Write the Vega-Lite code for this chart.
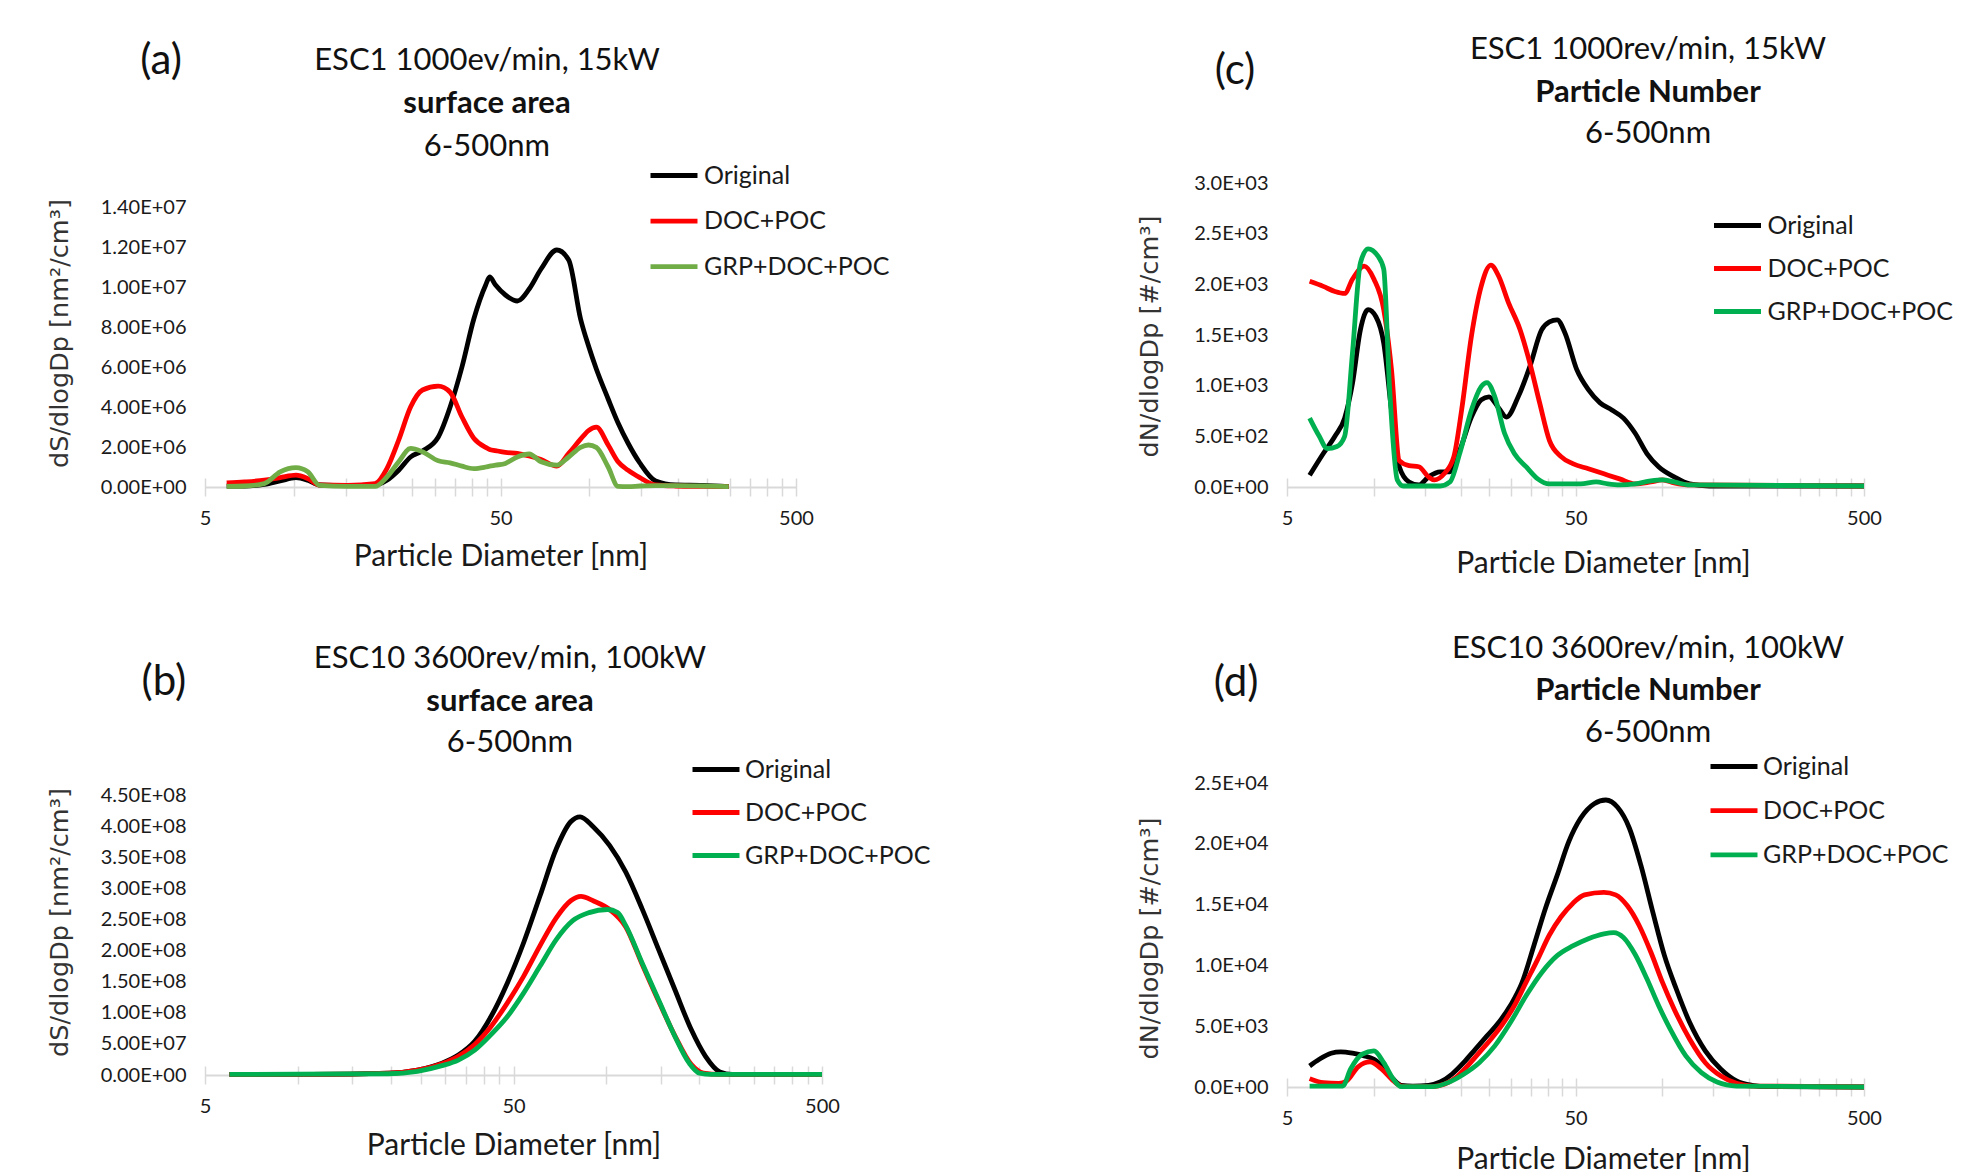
{
  "$schema": "https://vega.github.io/schema/vega-lite/v6.json",
  "padding": {"left": 46, "top": 33, "right": 0, "bottom": 0},
  "autosize": {"type": "pad"},
  "bounds": "flush",
  "columns": 2,
  "spacing": {"row": 296, "column": 465},
  "resolve": {"scale": {"color": "independent"}, "legend": {"color": "independent"}},
  "config": {
    "view": {"stroke": null},
    "font": "Lato",
    "axis": {"labelFont": "Lato", "labelFontSize": 20, "labelColor": "#1a1a1a", "titleColor": "#1a1a1a", "grid": false, "labelOverlap": false},
    "axisX": {"domainColor": "#D9D9D9", "domainWidth": 2, "tickColor": "#D9D9D9", "tickWidth": 1.5, "tickSize": 9, "labelPadding": 12, "labelFlush": false, "labelAngle": 0, "titleFont": "Lato", "titleFontSize": 30, "titleFontWeight": "normal", "titleBaseline": "middle"},
    "axisY": {"domain": false, "ticks": false, "labelPadding": 19, "titleFont": "DejaVu Sans", "titleFontSize": 25.5, "titleFontWeight": "normal", "titleBaseline": "middle", "titleColor": "#333333"},
    "legend": {"title": null, "orient": "none", "padding": 0, "symbolType": "M-2,0H2", "symbolSize": 552, "symbolStrokeWidth": 5, "labelFont": "Lato", "labelFontSize": 25, "labelColor": "#1a1a1a", "labelLimit": 400},
    "text": {"font": "Lato", "fontSize": 31, "color": "#111111", "baseline": "middle", "align": "center"},
    "line": {"strokeWidth": 4.8, "interpolate": "monotone"}
  },
  "concat": [
    {
      "width": 591, "height": 304,
      "data": {"values": [
        {"d": 5.92, "Original": 50000, "DOC+POC": 200000, "GRP+DOC+POC": 30000},
        {"d": 6.80, "Original": 50000, "DOC+POC": 250000, "GRP+DOC+POC": 50000},
        {"d": 7.94, "Original": 130000, "DOC+POC": 340000, "GRP+DOC+POC": 170000},
        {"d": 8.98, "Original": 300000, "DOC+POC": 470000, "GRP+DOC+POC": 760000},
        {"d": 10.16, "Original": 470000, "DOC+POC": 590000, "GRP+DOC+POC": 970000},
        {"d": 11.14, "Original": 340000, "DOC+POC": 420000, "GRP+DOC+POC": 760000},
        {"d": 12.22, "Original": 100000, "DOC+POC": 100000, "GRP+DOC+POC": 80000},
        {"d": 15.16, "Original": 70000, "DOC+POC": 80000, "GRP+DOC+POC": 30000},
        {"d": 18.80, "Original": 100000, "DOC+POC": 170000, "GRP+DOC+POC": 30000},
        {"d": 20.63, "Original": 340000, "DOC+POC": 920000, "GRP+DOC+POC": 500000},
        {"d": 22.62, "Original": 840000, "DOC+POC": 2350000, "GRP+DOC+POC": 1260000},
        {"d": 24.81, "Original": 1500000, "DOC+POC": 4000000, "GRP+DOC+POC": 1930000},
        {"d": 27.22, "Original": 1800000, "DOC+POC": 4850000, "GRP+DOC+POC": 1760000},
        {"d": 30.79, "Original": 2500000, "DOC+POC": 5040000, "GRP+DOC+POC": 1310000},
        {"d": 33.77, "Original": 4000000, "DOC+POC": 4740000, "GRP+DOC+POC": 1210000},
        {"d": 37.03, "Original": 6000000, "DOC+POC": 3500000, "GRP+DOC+POC": 1040000},
        {"d": 40.61, "Original": 8400000, "DOC+POC": 2440000, "GRP+DOC+POC": 920000},
        {"d": 44.55, "Original": 10100000, "DOC+POC": 1980000, "GRP+DOC+POC": 1000000},
        {"d": 45.94, "Original": 10500000, "DOC+POC": 1880000, "GRP+DOC+POC": 1040000},
        {"d": 48.11, "Original": 10100000, "DOC+POC": 1820000, "GRP+DOC+POC": 1090000},
        {"d": 51.96, "Original": 9600000, "DOC+POC": 1730000, "GRP+DOC+POC": 1180000},
        {"d": 57.00, "Original": 9300000, "DOC+POC": 1680000, "GRP+DOC+POC": 1500000},
        {"d": 62.51, "Original": 9900000, "DOC+POC": 1550000, "GRP+DOC+POC": 1650000},
        {"d": 68.57, "Original": 10900000, "DOC+POC": 1380000, "GRP+DOC+POC": 1260000},
        {"d": 77.56, "Original": 11850000, "DOC+POC": 1040000, "GRP+DOC+POC": 1090000},
        {"d": 85.07, "Original": 11350000, "DOC+POC": 1680000, "GRP+DOC+POC": 1500000},
        {"d": 93.31, "Original": 8400000, "DOC+POC": 2390000, "GRP+DOC+POC": 1980000},
        {"d": 99.24, "Original": 7060000, "DOC+POC": 2820000, "GRP+DOC+POC": 2100000},
        {"d": 105.5, "Original": 5900000, "DOC+POC": 2990000, "GRP+DOC+POC": 1980000},
        {"d": 115.7, "Original": 4400000, "DOC+POC": 2100000, "GRP+DOC+POC": 1000000},
        {"d": 125.0, "Original": 3200000, "DOC+POC": 1260000, "GRP+DOC+POC": 30000},
        {"d": 135.0, "Original": 2200000, "DOC+POC": 840000, "GRP+DOC+POC": 20000},
        {"d": 148.1, "Original": 1200000, "DOC+POC": 470000, "GRP+DOC+POC": 50000},
        {"d": 167.5, "Original": 300000, "DOC+POC": 100000, "GRP+DOC+POC": 70000},
        {"d": 195.4, "Original": 100000, "DOC+POC": 50000, "GRP+DOC+POC": 70000},
        {"d": 242.5, "Original": 80000, "DOC+POC": 30000, "GRP+DOC+POC": 50000},
        {"d": 296.2, "Original": 20000, "DOC+POC": 20000, "GRP+DOC+POC": 20000}
      ]},
      "layer": [
        {
          "transform": [{"fold": ["Original", "DOC+POC", "GRP+DOC+POC"], "as": ["s", "v"]}],
          "mark": {"type": "line"},
          "encoding": {
            "x": {"field": "d", "type": "quantitative", "scale": {"type": "log", "domain": [5, 500], "nice": false},
              "axis": {"values": [5,10,15,20,25,30,35,40,45,50,100,150,200,250,300,350,400,450,500], "tickCount": 40, "labelExpr": "datum.value == 5 || datum.value == 50 || datum.value == 500 ? '' + datum.value : ''", "title": "Particle Diameter [nm]", "titleY": 69, "encoding": {"ticks": {"y": {"value": -9}}}}},
            "y": {"field": "v", "type": "quantitative", "scale": {"domain": [0, 15200000], "nice": false},
              "axis": {"values": [0,2000000,4000000,6000000,8000000,10000000,12000000,14000000], "tickCount": 30, "labelExpr": "replace(format(datum.value, '.2e'), 'e+', 'E+0')", "title": "dS/dlogDp [nm²/cm³]", "titleX": -146, "titleY": 150}},
            "color": {"field": "s", "type": "nominal", "scale": {"domain": ["Original", "DOC+POC", "GRP+DOC+POC"], "range": ["#000000", "#FF0000", "#70AD47"]},
              "legend": {"legendX": 454.5, "legendY": -22, "labelOffset": 15.5, "rowPadding": 17.6}}
          }
        },
        {"data": {"values": [{}]}, "mark": {"type": "text"}, "encoding": {"x": {"datum": 45}, "y": {"datum": 21325000}, "text": {"value": "ESC1 1000ev/min, 15kW"}}},
        {"data": {"values": [{}]}, "mark": {"type": "text", "fontWeight": "bold"}, "encoding": {"x": {"datum": 45}, "y": {"datum": 19175000}, "text": {"value": "surface area"}}},
        {"data": {"values": [{}]}, "mark": {"type": "text"}, "encoding": {"x": {"datum": 45}, "y": {"datum": 17025000}, "text": {"value": "6-500nm"}}},
        {"data": {"values": [{}]}, "mark": {"type": "text", "fontSize": 42}, "encoding": {"x": {"datum": 3.55}, "y": {"datum": 21325000}, "text": {"value": "(a)"}}}
      ]
    },
    {
      "width": 577, "height": 304,
      "data": {"values": [
        {"d":5.99,"s":"Original","v":115},{"d":6.68,"s":"Original","v":330},{"d":7.33,"s":"Original","v":500},{"d":7.92,"s":"Original","v":680},{"d":8.43,"s":"Original","v":1020},{"d":8.98,"s":"Original","v":1550},{"d":9.55,"s":"Original","v":1750},{"d":10.17,"s":"Original","v":1680},{"d":10.82,"s":"Original","v":1420},{"d":11.51,"s":"Original","v":760},{"d":12.25,"s":"Original","v":200},{"d":13.24,"s":"Original","v":50},{"d":14.31,"s":"Original","v":20},{"d":15.47,"s":"Original","v":100},{"d":16.98,"s":"Original","v":150},{"d":18.36,"s":"Original","v":150},{"d":19.84,"s":"Original","v":360},{"d":21.79,"s":"Original","v":690},{"d":23.55,"s":"Original","v":860},{"d":25.06,"s":"Original","v":890},{"d":27.09,"s":"Original","v":780},{"d":28.83,"s":"Original","v":690},{"d":31.65,"s":"Original","v":890},{"d":34.75,"s":"Original","v":1190},{"d":38.15,"s":"Original","v":1550},{"d":40.59,"s":"Original","v":1630},{"d":43.19,"s":"Original","v":1650},{"d":45.97,"s":"Original","v":1520},{"d":50.47,"s":"Original","v":1160},{"d":55.41,"s":"Original","v":960},{"d":60.82,"s":"Original","v":830},{"d":66.79,"s":"Original","v":760},{"d":73.32,"s":"Original","v":680},{"d":80.51,"s":"Original","v":530},{"d":88.40,"s":"Original","v":330},{"d":97.04,"s":"Original","v":200},{"d":109.9,"s":"Original","v":100},{"d":124.4,"s":"Original","v":30},{"d":145.4,"s":"Original","v":10},{"d":500,"s":"Original","v":10},
        {"d":5.99,"s":"DOC+POC","v":2030},{"d":6.68,"s":"DOC+POC","v":1980},{"d":7.33,"s":"DOC+POC","v":1930},{"d":7.92,"s":"DOC+POC","v":1910},{"d":8.43,"s":"DOC+POC","v":2050},{"d":9.26,"s":"DOC+POC","v":2180},{"d":10.01,"s":"DOC+POC","v":2050},{"d":10.82,"s":"DOC+POC","v":1750},{"d":11.51,"s":"DOC+POC","v":1160},{"d":12.25,"s":"DOC+POC","v":260},{"d":13.24,"s":"DOC+POC","v":210},{"d":14.31,"s":"DOC+POC","v":200},{"d":15.47,"s":"DOC+POC","v":100},{"d":16.21,"s":"DOC+POC","v":70},{"d":17.52,"s":"DOC+POC","v":130},{"d":18.94,"s":"DOC+POC","v":300},{"d":20.15,"s":"DOC+POC","v":760},{"d":21.79,"s":"DOC+POC","v":1490},{"d":23.55,"s":"DOC+POC","v":1980},{"d":25.45,"s":"DOC+POC","v":2190},{"d":27.09,"s":"DOC+POC","v":2080},{"d":29.28,"s":"DOC+POC","v":1820},{"d":32.15,"s":"DOC+POC","v":1550},{"d":34.75,"s":"DOC+POC","v":1220},{"d":37.56,"s":"DOC+POC","v":830},{"d":40.59,"s":"DOC+POC","v":460},{"d":44.56,"s":"DOC+POC","v":300},{"d":48.92,"s":"DOC+POC","v":230},{"d":55.41,"s":"DOC+POC","v":180},{"d":62.75,"s":"DOC+POC","v":130},{"d":71.07,"s":"DOC+POC","v":80},{"d":80.51,"s":"DOC+POC","v":30},{"d":91.20,"s":"DOC+POC","v":50},{"d":100.1,"s":"DOC+POC","v":70},{"d":109.9,"s":"DOC+POC","v":40},{"d":124.4,"s":"DOC+POC","v":20},{"d":500,"s":"DOC+POC","v":10},
        {"d":5.99,"s":"GRP+DOC+POC","v":680},{"d":6.47,"s":"GRP+DOC+POC","v":500},{"d":6.89,"s":"GRP+DOC+POC","v":380},{"d":7.45,"s":"GRP+DOC+POC","v":400},{"d":7.92,"s":"GRP+DOC+POC","v":500},{"d":8.43,"s":"GRP+DOC+POC","v":1320},{"d":8.98,"s":"GRP+DOC+POC","v":2210},{"d":9.55,"s":"GRP+DOC+POC","v":2350},{"d":10.32,"s":"GRP+DOC+POC","v":2280},{"d":10.82,"s":"GRP+DOC+POC","v":2150},{"d":11.33,"s":"GRP+DOC+POC","v":990},{"d":12.06,"s":"GRP+DOC+POC","v":70},{"d":12.64,"s":"GRP+DOC+POC","v":10},{"d":16.98,"s":"GRP+DOC+POC","v":10},{"d":18.36,"s":"GRP+DOC+POC","v":50},{"d":19.84,"s":"GRP+DOC+POC","v":330},{"d":21.79,"s":"GRP+DOC+POC","v":760},{"d":23.55,"s":"GRP+DOC+POC","v":990},{"d":24.67,"s":"GRP+DOC+POC","v":1030},{"d":26.26,"s":"GRP+DOC+POC","v":890},{"d":28.38,"s":"GRP+DOC+POC","v":530},{"d":30.68,"s":"GRP+DOC+POC","v":330},{"d":33.69,"s":"GRP+DOC+POC","v":200},{"d":36.98,"s":"GRP+DOC+POC","v":80},{"d":40.59,"s":"GRP+DOC+POC","v":30},{"d":45.97,"s":"GRP+DOC+POC","v":30},{"d":52.07,"s":"GRP+DOC+POC","v":30},{"d":58.96,"s":"GRP+DOC+POC","v":50},{"d":64.74,"s":"GRP+DOC+POC","v":30},{"d":71.07,"s":"GRP+DOC+POC","v":20},{"d":80.51,"s":"GRP+DOC+POC","v":30},{"d":91.20,"s":"GRP+DOC+POC","v":60},{"d":100.1,"s":"GRP+DOC+POC","v":70},{"d":109.9,"s":"GRP+DOC+POC","v":50},{"d":124.4,"s":"GRP+DOC+POC","v":20},{"d":500,"s":"GRP+DOC+POC","v":10}
      ]},
      "layer": [
        {
          "mark": {"type": "line"},
          "encoding": {
            "x": {"field": "d", "type": "quantitative", "scale": {"type": "log", "domain": [5, 500], "nice": false},
              "axis": {"values": [5,10,15,20,25,30,35,40,45,50,100,150,200,250,300,350,400,450,500], "tickCount": 40, "labelExpr": "datum.value == 5 || datum.value == 50 || datum.value == 500 ? '' + datum.value : ''", "title": "Particle Diameter [nm]", "titleY": 76, "titleX": 316, "encoding": {"ticks": {"y": {"value": -9}}}}},
            "y": {"field": "v", "type": "quantitative", "scale": {"domain": [0, 3000], "nice": false},
              "axis": {"values": [0,500,1000,1500,2000,2500,3000], "tickCount": 30, "labelExpr": "replace(format(datum.value, '.1e'), 'e+', 'E+0')", "title": "dN/dlogDp [#/cm³]", "titleX": -138, "titleY": 153}},
            "color": {"field": "s", "type": "nominal", "scale": {"domain": ["Original", "DOC+POC", "GRP+DOC+POC"], "range": ["#000000", "#FF0000", "#00B050"]},
              "legend": {"legendX": 436, "legendY": 28, "labelOffset": 15.5, "rowPadding": 15}}
          }
        },
        {"data": {"values": [{}]}, "mark": {"type": "text"}, "encoding": {"x": {"datum": 89.2}, "y": {"datum": 4317}, "text": {"value": "ESC1 1000rev/min, 15kW"}}},
        {"data": {"values": [{}]}, "mark": {"type": "text", "fontWeight": "bold"}, "encoding": {"x": {"datum": 89.2}, "y": {"datum": 3893}, "text": {"value": "Particle Number"}}},
        {"data": {"values": [{}]}, "mark": {"type": "text"}, "encoding": {"x": {"datum": 89.2}, "y": {"datum": 3488}, "text": {"value": "6-500nm"}}},
        {"data": {"values": [{}]}, "mark": {"type": "text", "fontSize": 42}, "encoding": {"x": {"datum": 3.30}, "y": {"datum": 4110}, "text": {"value": "(c)"}}}
      ]
    },
    {
      "width": 617, "height": 292,
      "data": {"values": [
        {"d":6.00,"s":"Original","v":1e6},{"d":11.05,"s":"Original","v":1e6},{"d":19.72,"s":"Original","v":3e6},{"d":24.42,"s":"Original","v":8e6},{"d":29.32,"s":"Original","v":1.9e7},{"d":33.13,"s":"Original","v":3.2e7},{"d":37.43,"s":"Original","v":5.4e7},{"d":42.28,"s":"Original","v":9.4e7},{"d":47.77,"s":"Original","v":1.48e8},{"d":53.96,"s":"Original","v":2.13e8},{"d":60.96,"s":"Original","v":2.88e8},{"d":68.88,"s":"Original","v":3.64e8},{"d":76.63,"s":"Original","v":4.07e8},{"d":82.20,"s":"Original","v":4.15e8},{"d":90.63,"s":"Original","v":3.99e8},{"d":102.4,"s":"Original","v":3.69e8},{"d":115.6,"s":"Original","v":3.26e8},{"d":130.6,"s":"Original","v":2.67e8},{"d":147.6,"s":"Original","v":2.02e8},{"d":166.8,"s":"Original","v":1.37e8},{"d":188.4,"s":"Original","v":7.3e7},{"d":209.6,"s":"Original","v":3.0e7},{"d":233.3,"s":"Original","v":5e6},{"d":255.6,"s":"Original","v":1e6},{"d":500,"s":"Original","v":1e6},
        {"d":6.00,"s":"DOC+POC","v":1e6},{"d":11.05,"s":"DOC+POC","v":1e6},{"d":19.72,"s":"DOC+POC","v":3e6},{"d":24.42,"s":"DOC+POC","v":8e6},{"d":29.32,"s":"DOC+POC","v":1.8e7},{"d":33.13,"s":"DOC+POC","v":3.0e7},{"d":37.43,"s":"DOC+POC","v":4.9e7},{"d":42.28,"s":"DOC+POC","v":7.8e7},{"d":47.77,"s":"DOC+POC","v":1.16e8},{"d":53.96,"s":"DOC+POC","v":1.59e8},{"d":60.96,"s":"DOC+POC","v":2.08e8},{"d":68.88,"s":"DOC+POC","v":2.53e8},{"d":76.63,"s":"DOC+POC","v":2.80e8},{"d":82.70,"s":"DOC+POC","v":2.87e8},{"d":90.63,"s":"DOC+POC","v":2.80e8},{"d":102.4,"s":"DOC+POC","v":2.66e8},{"d":115.6,"s":"DOC+POC","v":2.38e8},{"d":130.6,"s":"DOC+POC","v":1.78e8},{"d":147.6,"s":"DOC+POC","v":1.19e8},{"d":166.8,"s":"DOC+POC","v":6.3e7},{"d":188.4,"s":"DOC+POC","v":1.7e7},{"d":206.5,"s":"DOC+POC","v":3e6},{"d":233.3,"s":"DOC+POC","v":1e6},{"d":500,"s":"DOC+POC","v":1e6},
        {"d":6.00,"s":"GRP+DOC+POC","v":1e6},{"d":19.72,"s":"GRP+DOC+POC","v":2e6},{"d":24.42,"s":"GRP+DOC+POC","v":6e6},{"d":29.32,"s":"GRP+DOC+POC","v":1.5e7},{"d":33.13,"s":"GRP+DOC+POC","v":2.4e7},{"d":37.43,"s":"GRP+DOC+POC","v":4.0e7},{"d":42.28,"s":"GRP+DOC+POC","v":6.5e7},{"d":47.77,"s":"GRP+DOC+POC","v":9.4e7},{"d":53.96,"s":"GRP+DOC+POC","v":1.32e8},{"d":60.96,"s":"GRP+DOC+POC","v":1.75e8},{"d":68.88,"s":"GRP+DOC+POC","v":2.18e8},{"d":77.80,"s":"GRP+DOC+POC","v":2.48e8},{"d":87.91,"s":"GRP+DOC+POC","v":2.61e8},{"d":100.8,"s":"GRP+DOC+POC","v":2.66e8},{"d":108.8,"s":"GRP+DOC+POC","v":2.61e8},{"d":115.6,"s":"GRP+DOC+POC","v":2.40e8},{"d":130.6,"s":"GRP+DOC+POC","v":1.80e8},{"d":147.6,"s":"GRP+DOC+POC","v":1.21e8},{"d":166.8,"s":"GRP+DOC+POC","v":6.2e7},{"d":185.6,"s":"GRP+DOC+POC","v":1.9e7},{"d":200.3,"s":"GRP+DOC+POC","v":3e6},{"d":219.5,"s":"GRP+DOC+POC","v":1e6},{"d":500,"s":"GRP+DOC+POC","v":1e6}
      ]},
      "layer": [
        {
          "mark": {"type": "line"},
          "encoding": {
            "x": {"field": "d", "type": "quantitative", "scale": {"type": "log", "domain": [5, 500], "nice": false},
              "axis": {"values": [5,10,15,20,25,30,35,40,45,50,100,150,200,250,300,350,400,450,500], "tickCount": 40, "labelExpr": "datum.value == 5 || datum.value == 50 || datum.value == 500 ? '' + datum.value : ''", "title": "Particle Diameter [nm]", "titleY": 70, "encoding": {"ticks": {"y": {"value": -9}}}}},
            "y": {"field": "v", "type": "quantitative", "scale": {"domain": [0, 469300000], "nice": false},
              "axis": {"values": [0,50000000,100000000,150000000,200000000,250000000,300000000,350000000,400000000,450000000], "tickCount": 30, "labelExpr": "replace(format(datum.value, '.2e'), 'e+', 'E+0')", "title": "dS/dlogDp [nm²/cm³]", "titleX": -146, "titleY": 139}},
            "color": {"field": "s", "type": "nominal", "scale": {"domain": ["Original", "DOC+POC", "GRP+DOC+POC"], "range": ["#000000", "#FF0000", "#00B050"]},
              "legend": {"legendX": 496.5, "legendY": -28, "labelOffset": 14.5, "rowPadding": 15}}
          }
        },
        {"data": {"values": [{}]}, "mark": {"type": "text"}, "encoding": {"x": {"datum": 48.7}, "y": {"datum": 667800000}, "text": {"value": "ESC10 3600rev/min, 100kW"}}},
        {"data": {"values": [{}]}, "mark": {"type": "text", "fontWeight": "bold"}, "encoding": {"x": {"datum": 48.7}, "y": {"datum": 598700000}, "text": {"value": "surface area"}}},
        {"data": {"values": [{}]}, "mark": {"type": "text"}, "encoding": {"x": {"datum": 48.7}, "y": {"datum": 532800000}, "text": {"value": "6-500nm"}}},
        {"data": {"values": [{}]}, "mark": {"type": "text", "fontSize": 42}, "encoding": {"x": {"datum": 3.68}, "y": {"datum": 632400000}, "text": {"value": "(b)"}}}
      ]
    },
    {
      "width": 577, "height": 304,
      "data": {"values": [
        {"d":5.99,"s":"Original","v":1730},{"d":6.47,"s":"Original","v":2280},{"d":7.11,"s":"Original","v":2780},{"d":7.68,"s":"Original","v":2890},{"d":8.43,"s":"Original","v":2780},{"d":9.26,"s":"Original","v":2560},{"d":10.01,"s":"Original","v":2280},{"d":10.82,"s":"Original","v":1600},{"d":11.69,"s":"Original","v":630},{"d":12.44,"s":"Original","v":140},{"d":13.66,"s":"Original","v":80},{"d":15.47,"s":"Original","v":140},{"d":16.98,"s":"Original","v":410},{"d":18.64,"s":"Original","v":1050},{"d":20.47,"s":"Original","v":2000},{"d":22.47,"s":"Original","v":3100},{"d":24.67,"s":"Original","v":4200},{"d":27.09,"s":"Original","v":5300},{"d":29.74,"s":"Original","v":6700},{"d":32.66,"s":"Original","v":8600},{"d":35.84,"s":"Original","v":11600},{"d":39.35,"s":"Original","v":14700},{"d":43.19,"s":"Original","v":17400},{"d":47.43,"s":"Original","v":20200},{"d":52.07,"s":"Original","v":22100},{"d":58.06,"s":"Original","v":23300},{"d":63.73,"s":"Original","v":23600},{"d":69.98,"s":"Original","v":23000},{"d":76.82,"s":"Original","v":21300},{"d":84.33,"s":"Original","v":18200},{"d":92.62,"s":"Original","v":14400},{"d":101.7,"s":"Original","v":10800},{"d":111.6,"s":"Original","v":8100},{"d":124.4,"s":"Original","v":5300},{"d":140.9,"s":"Original","v":2970},{"d":159.6,"s":"Original","v":1460},{"d":180.7,"s":"Original","v":500},{"d":204.7,"s":"Original","v":140},{"d":231.9,"s":"Original","v":30},{"d":500,"s":"Original","v":0},
        {"d":5.99,"s":"DOC+POC","v":690},{"d":6.68,"s":"DOC+POC","v":360},{"d":7.56,"s":"DOC+POC","v":300},{"d":8.05,"s":"DOC+POC","v":500},{"d":8.84,"s":"DOC+POC","v":1680},{"d":9.70,"s":"DOC+POC","v":2060},{"d":10.65,"s":"DOC+POC","v":1460},{"d":11.69,"s":"DOC+POC","v":500},{"d":12.44,"s":"DOC+POC","v":80},{"d":14.09,"s":"DOC+POC","v":30},{"d":15.96,"s":"DOC+POC","v":30},{"d":17.52,"s":"DOC+POC","v":220},{"d":19.23,"s":"DOC+POC","v":770},{"d":21.12,"s":"DOC+POC","v":1730},{"d":23.19,"s":"DOC+POC","v":2830},{"d":25.45,"s":"DOC+POC","v":3930},{"d":27.95,"s":"DOC+POC","v":5170},{"d":30.68,"s":"DOC+POC","v":6680},{"d":33.69,"s":"DOC+POC","v":8600},{"d":36.98,"s":"DOC+POC","v":10500},{"d":40.59,"s":"DOC+POC","v":12500},{"d":44.56,"s":"DOC+POC","v":14000},{"d":48.92,"s":"DOC+POC","v":15100},{"d":53.71,"s":"DOC+POC","v":15800},{"d":62.75,"s":"DOC+POC","v":16000},{"d":68.90,"s":"DOC+POC","v":15800},{"d":75.64,"s":"DOC+POC","v":14900},{"d":83.03,"s":"DOC+POC","v":13300},{"d":91.20,"s":"DOC+POC","v":11100},{"d":100.1,"s":"DOC+POC","v":8600},{"d":109.9,"s":"DOC+POC","v":6400},{"d":124.4,"s":"DOC+POC","v":3930},{"d":140.9,"s":"DOC+POC","v":2000},{"d":159.6,"s":"DOC+POC","v":900},{"d":180.7,"s":"DOC+POC","v":300},{"d":204.7,"s":"DOC+POC","v":80},{"d":500,"s":"DOC+POC","v":0},
        {"d":5.99,"s":"GRP+DOC+POC","v":80},{"d":7.80,"s":"GRP+DOC+POC","v":80},{"d":8.30,"s":"GRP+DOC+POC","v":1460},{"d":9.12,"s":"GRP+DOC+POC","v":2700},{"d":10.01,"s":"GRP+DOC+POC","v":2970},{"d":10.82,"s":"GRP+DOC+POC","v":2000},{"d":11.69,"s":"GRP+DOC+POC","v":630},{"d":12.44,"s":"GRP+DOC+POC","v":30},{"d":15.96,"s":"GRP+DOC+POC","v":30},{"d":18.07,"s":"GRP+DOC+POC","v":360},{"d":20.47,"s":"GRP+DOC+POC","v":1050},{"d":23.19,"s":"GRP+DOC+POC","v":2000},{"d":26.26,"s":"GRP+DOC+POC","v":3380},{"d":29.74,"s":"GRP+DOC+POC","v":5300},{"d":33.69,"s":"GRP+DOC+POC","v":7500},{"d":38.15,"s":"GRP+DOC+POC","v":9400},{"d":43.19,"s":"GRP+DOC+POC","v":10800},{"d":48.92,"s":"GRP+DOC+POC","v":11600},{"d":55.41,"s":"GRP+DOC+POC","v":12200},{"d":62.75,"s":"GRP+DOC+POC","v":12600},{"d":67.83,"s":"GRP+DOC+POC","v":12700},{"d":73.32,"s":"GRP+DOC+POC","v":12300},{"d":80.51,"s":"GRP+DOC+POC","v":10900},{"d":88.40,"s":"GRP+DOC+POC","v":8900},{"d":97.04,"s":"GRP+DOC+POC","v":6700},{"d":106.5,"s":"GRP+DOC+POC","v":4760},{"d":120.6,"s":"GRP+DOC+POC","v":2560},{"d":136.6,"s":"GRP+DOC+POC","v":1180},{"d":154.7,"s":"GRP+DOC+POC","v":410},{"d":180.7,"s":"GRP+DOC+POC","v":80},{"d":500,"s":"GRP+DOC+POC","v":0}
      ]},
      "layer": [
        {
          "mark": {"type": "line"},
          "encoding": {
            "x": {"field": "d", "type": "quantitative", "scale": {"type": "log", "domain": [5, 500], "nice": false},
              "axis": {"values": [5,10,15,20,25,30,35,40,45,50,100,150,200,250,300,350,400,450,500], "tickCount": 40, "labelExpr": "datum.value == 5 || datum.value == 50 || datum.value == 500 ? '' + datum.value : ''", "title": "Particle Diameter [nm]", "titleY": 72, "titleX": 316, "encoding": {"ticks": {"y": {"value": -9}}}}},
            "y": {"field": "v", "type": "quantitative", "scale": {"domain": [0, 25000], "nice": false},
              "axis": {"values": [0,5000,10000,15000,20000,25000], "tickCount": 30, "labelExpr": "replace(format(datum.value, '.1e'), 'e+', 'E+0')", "title": "dN/dlogDp [#/cm³]", "titleX": -138, "titleY": 155}},
            "color": {"field": "s", "type": "nominal", "scale": {"domain": ["Original", "DOC+POC", "GRP+DOC+POC"], "range": ["#000000", "#FF0000", "#00B050"]},
              "legend": {"legendX": 432.5, "legendY": -31, "labelOffset": 14.5, "rowPadding": 16.2}}
          }
        },
        {"data": {"values": [{}]}, "mark": {"type": "text"}, "encoding": {"x": {"datum": 89.2}, "y": {"datum": 36014}, "text": {"value": "ESC10 3600rev/min, 100kW"}}},
        {"data": {"values": [{}]}, "mark": {"type": "text", "fontWeight": "bold"}, "encoding": {"x": {"datum": 89.2}, "y": {"datum": 32549}, "text": {"value": "Particle Number"}}},
        {"data": {"values": [{}]}, "mark": {"type": "text"}, "encoding": {"x": {"datum": 89.2}, "y": {"datum": 29084}, "text": {"value": "6-500nm"}}},
        {"data": {"values": [{}]}, "mark": {"type": "text", "fontSize": 42}, "encoding": {"x": {"datum": 3.33}, "y": {"datum": 33209}, "text": {"value": "(d)"}}}
      ]
    }
  ]
}
